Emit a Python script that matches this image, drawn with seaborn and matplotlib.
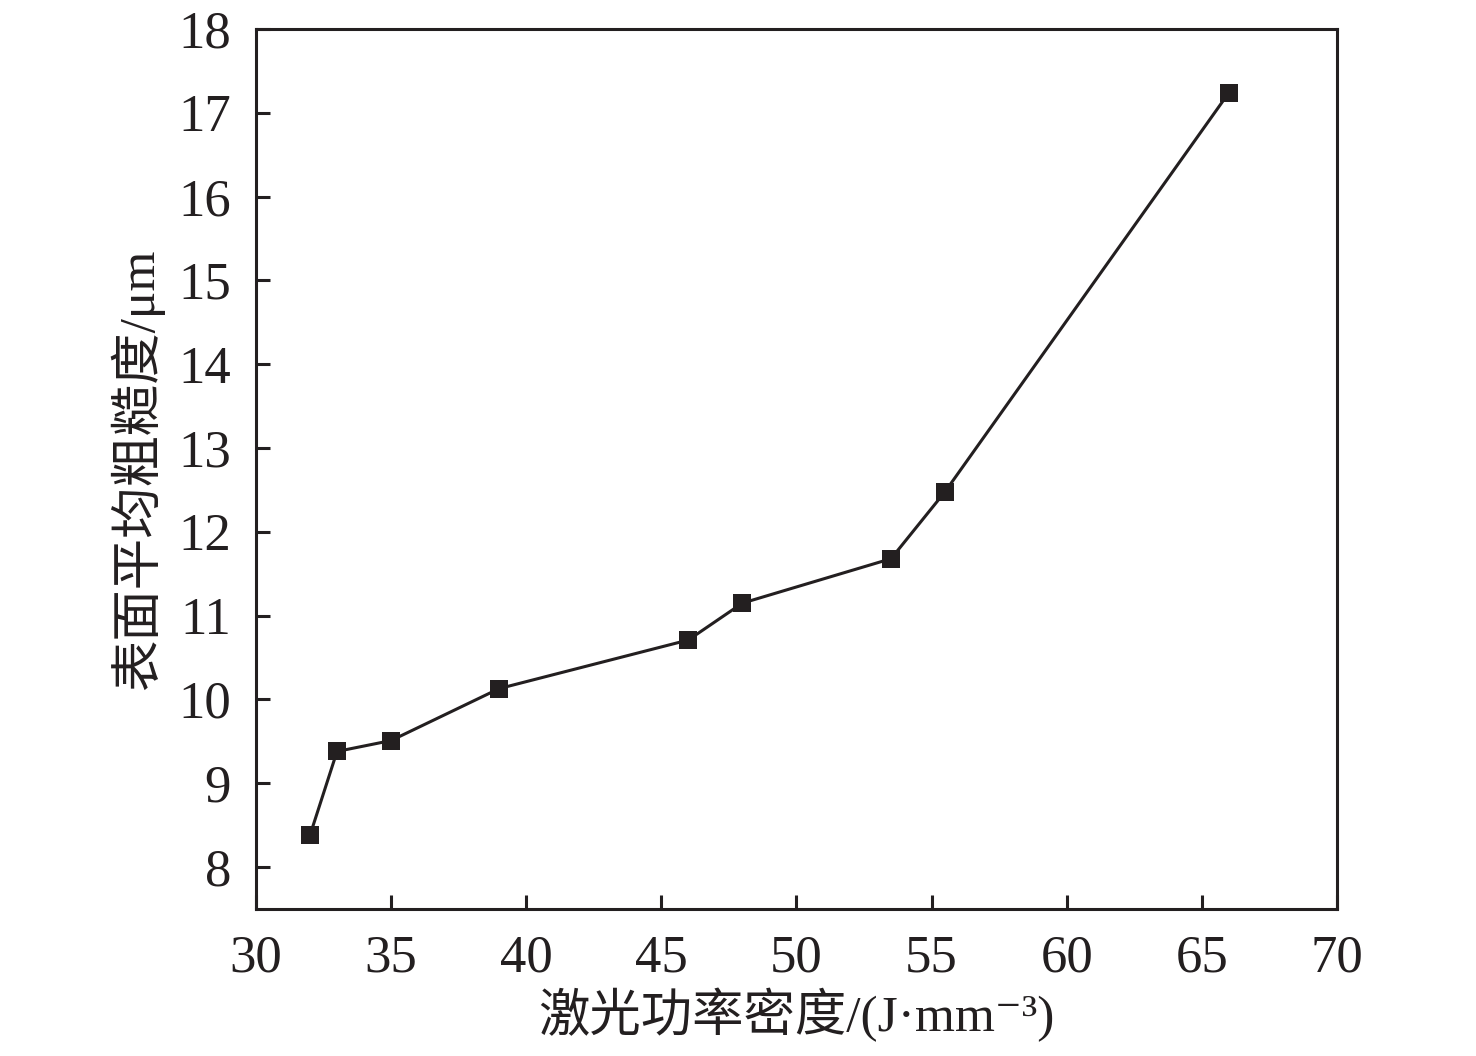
import numpy as np
import pandas as pd
import matplotlib
matplotlib.use("Agg")
import matplotlib.pyplot as plt
import seaborn as sns

# energy density (J/mm^3) vs mean surface roughness (um)
energy_density = [32, 33, 35, 39, 46, 48, 53.5, 55.5, 66]
roughness = [8.38, 9.38, 9.51, 10.13, 10.71, 11.15, 11.68, 12.48, 17.24]

x_ticks = [30, 35, 40, 45, 50, 55, 60, 65, 70]
y_ticks = [8, 9, 10, 11, 12, 13, 14, 15, 16, 17, 18]

df = pd.DataFrame({"E": energy_density, "Ra": roughness})

sns.set_style("ticks")
plt.rcParams['font.family'] = ['Liberation Serif', 'Noto Sans CJK SC', 'DejaVu Sans']

fig = plt.figure(figsize=(14.76, 10.56), dpi=100)
ax = fig.add_axes([0.1734, 0.1392, 0.9058 - 0.1734, 0.9725 - 0.1392])

sns.lineplot(data=df, x="E", y="Ra", ax=ax, color="#231f20", linewidth=2.2,
             marker="s", markersize=13.5, markeredgewidth=0, sort=False)

ax.set_xlim(30, 70)
ax.set_ylim(7.5, 18)
ax.set_xticks(x_ticks)
ax.set_yticks(y_ticks)
ax.tick_params(direction="in", length=10, width=2.2, labelsize=38, colors="#231f20",
               top=False, right=False, pad=18)
for s in ax.spines.values():
    s.set_linewidth(2.2)
    s.set_color("#231f20")

ax.set_xlabel("激光功率密度/(J·mm⁻³)", fontsize=37, color="#231f20", labelpad=4)
ax.set_ylabel("表面平均粗糙度/μm", fontsize=37, color="#231f20", labelpad=10)

fig.savefig("out.png", dpi=100)
